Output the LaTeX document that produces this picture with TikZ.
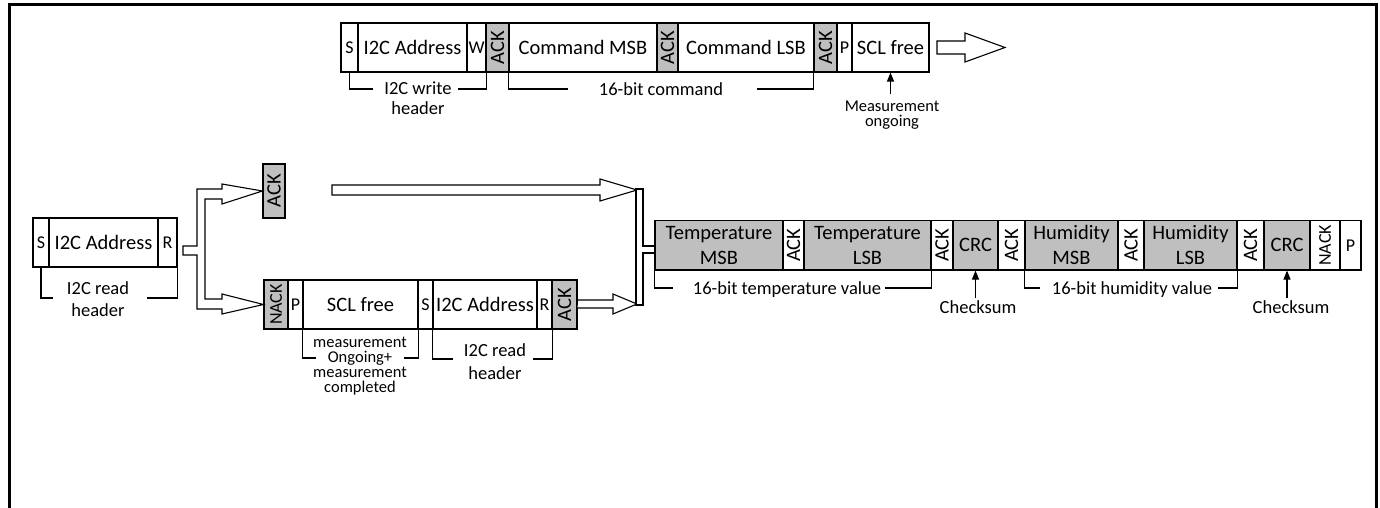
\documentclass[tikz,border=0pt]{standalone}
\usepackage{fontspec}
\setmainfont{Carlito}
\usetikzlibrary{arrows.meta,calc}
\definecolor{cellgray}{RGB}{191,191,191}
\tikzset{
 cell/.style={draw=black, line width=1.1bp, inner sep=0pt, font=\fontsize{20.5bp}{25bp}\selectfont, align=center},
 shaded/.style={fill=cellgray},
 plain/.style={fill=white},
 letter/.style={font=\fontsize{18bp}{20bp}\selectfont},
 nackfont/.style={font=\fontsize{18bp}{20bp}\selectfont},
 lbl/.style={inner sep=0pt, font=\fontsize{18.5bp}{15bp}\selectfont, align=center},
 tight/.style={font=\fontsize{16.5bp}{15.2bp}\selectfont},
 brk/.style={draw=black, line width=1.1bp},
 hollow/.style={draw=black, line width=1.1bp, fill=white, line join=miter},
 ptr/.style={draw=black, line width=1.1bp, -{Triangle[length=9bp,width=7bp]}},
 frameline/.style={draw=black, line width=3bp},
}
\newcommand\mkcell[7]{\node[cell,#6,minimum width={(#3-#2)*1bp},minimum height={(#5-#4)*1bp}] (#1) at ({(#2+#3)/2},{(#4+#5)/2}) {#7};}
\newcommand\vtext[1]{\rotatebox{90}{#1}}
\begin{document}
\begin{tikzpicture}[x=1bp,y=-1bp]
\useasboundingbox (0,0) rectangle (1380,508);
% frame
\draw[frameline] (9,508) -- (9,5) -- (1376,5) -- (1376,508);

% ---------- top write sequence ----------
\mkcell{tS}{341}{358}{23}{72}{plain,letter}{S}
\mkcell{tAddr}{358}{467}{23}{72}{plain}{I2C Address}
\mkcell{tW}{467}{486}{23}{72}{plain,letter}{W}
\mkcell{tA1}{486}{509}{23}{72}{shaded}{\vtext{ACK}}
\mkcell{tCM}{509}{657}{23}{72}{plain}{Command MSB}
\mkcell{tA2}{657}{678}{23}{72}{shaded}{\vtext{ACK}}
\mkcell{tCL}{678}{814}{23}{72}{plain}{Command LSB}
\mkcell{tA3}{814}{837}{23}{72}{shaded}{\vtext{ACK}}
\mkcell{tP}{837}{852}{23}{72}{plain,letter}{P}
\mkcell{tSCL}{852}{929}{23}{72}{plain}{SCL free}
\draw[hollow] (937,41) -- (965,41) -- (965,33) -- (1005,47.5) -- (965,62) -- (965,54) -- (937,54) -- cycle;

\node[lbl] (twh) at (418,88) {I2C write};
\node[lbl] (twh2) at (418,108) {header};
\draw[brk] (tS.south) |- (373,89);
\draw[brk] (458,89) -| (tW.south east);
\node[lbl] (tcmd) at (661,89) {16-bit command};
\draw[brk] (tCM.south west) |- (568,89);
\draw[brk] (757,89) -| (tA3.south west);
\node[lbl,tight] (msr) at (892,115) {Measurement\\ongoing};
\draw[ptr] ($(tSCL.south)+(0,21)$) -- (tSCL.south);

% ---------- left read header ----------
\mkcell{lS}{33}{49}{218}{267}{plain,letter}{S}
\mkcell{lAddr}{49}{158}{218}{267}{plain}{I2C Address}
\mkcell{lR}{158}{177}{218}{267}{plain,letter}{R}
\node[lbl] (lrh) at (98,288) {I2C read};
\node[lbl] (lrh2) at (98,310) {header};
\draw[brk] (lS.south) |- (53,298);
\draw[brk] (147,298) -| (lR.south east);

% ---------- ACK branch ----------
\mkcell{ackT}{263}{285}{164}{218}{shaded}{\vtext{ACK}}

% ---------- NACK branch ----------
\mkcell{bN}{264}{288}{280}{329}{shaded,nackfont}{\vtext{NACK}}
\mkcell{bP}{288}{303}{280}{329}{plain,letter}{P}
\mkcell{bSCL}{303}{418}{280}{329}{plain}{SCL free}
\mkcell{bS}{418}{433}{280}{329}{plain,letter}{S}
\mkcell{bAddr}{433}{537}{280}{329}{plain}{I2C Address}
\mkcell{bR}{537}{552}{280}{329}{plain,letter}{R}
\mkcell{bA}{552}{577}{280}{329}{shaded}{\vtext{ACK}}
\node[lbl,tight] (mlbl) at (360,366) {measurement\\Ongoing+\\measurement\\completed};
\draw[brk] (bSCL.south west) |- (316,358);
\draw[brk] (404,358) -| (bSCL.south east);
\node[lbl] (brh) at (495,350) {I2C read};
\node[lbl] (brh2) at (495,373) {header};
\draw[brk] (bAddr.south west) |- (453,359);
\draw[brk] (533,359) -| (bR.south east);

% fork arrow
\draw[hollow] (183,246) -- (197,246) -- (197,189) -- (222,189) -- (222,184) -- (ackT.west) -- (222,204) -- (222,199) -- (205,199) -- (205,299) -- (222,299) -- (222,294) -- (bN.west) -- (222,314) -- (222,309) -- (197,309) -- (197,255) -- (183,255) -- cycle;

% ---------- read data row ----------
\mkcell{rTM}{655}{783}{220.5}{270}{shaded}{Temperature\\MSB}
\mkcell{rA1}{783}{804}{220.5}{270}{plain}{\vtext{ACK}}
\mkcell{rTL}{804}{931}{220.5}{270}{shaded}{Temperature\\LSB}
\mkcell{rA2}{931}{953}{220.5}{270}{plain}{\vtext{ACK}}
\mkcell{crc1}{953}{998}{220.5}{270}{shaded}{CRC}
\mkcell{rA3}{998}{1025}{220.5}{270}{plain}{\vtext{ACK}}
\mkcell{rHM}{1025}{1118}{220.5}{270}{shaded}{Humidity\\MSB}
\mkcell{rA4}{1118}{1144}{220.5}{270}{plain}{\vtext{ACK}}
\mkcell{rHL}{1144}{1237}{220.5}{270}{shaded}{Humidity\\LSB}
\mkcell{rA5}{1237}{1264}{220.5}{270}{plain}{\vtext{ACK}}
\mkcell{crc2}{1264}{1310}{220.5}{270}{shaded}{CRC}
\mkcell{rN}{1310}{1340}{220.5}{270}{plain,nackfont}{\vtext{NACK}}
\mkcell{rP}{1340}{1361}{220.5}{270}{plain,letter}{P}

\node[lbl] (tval) at (787,290) {16-bit temperature value};
\draw[brk] (rTM.south west) |- (673,288);
\draw[brk] (885,288) -| (rTL.south east);
\node[lbl] (hval) at (1132,290) {16-bit humidity value};
\draw[brk] (rHM.south west) |- (1040,288);
\draw[brk] (1218,288) -| (rHL.south east);
\node[lbl] (ck1) at (978,307) {Checksum};
\draw[ptr] ($(crc1.south)+(0,27)$) -- (crc1.south);
\node[lbl] (ck2) at (1291,307) {Checksum};
\draw[ptr] ($(crc2.south)+(0,27)$) -- (crc2.south);

% long arrow and lower arrow into merge bar
\draw[hollow] (332,185) -- (600,185) -- (600,179) -- (637,190) -- (600,201) -- (600,195) -- (332,195) -- cycle;
\draw[hollow] (bA.east |- 0,300) -- (613,300) -- (613,294) -- (637,304) -- (613,314) -- (613,308) -- (577,308) -- cycle;
\draw[hollow] (636,189) -- (643,189) -- (643,246) -- (655,246) -- (655,253) -- (643,253) -- (643,305) -- (636,305) -- cycle;
\end{tikzpicture}
\end{document}
